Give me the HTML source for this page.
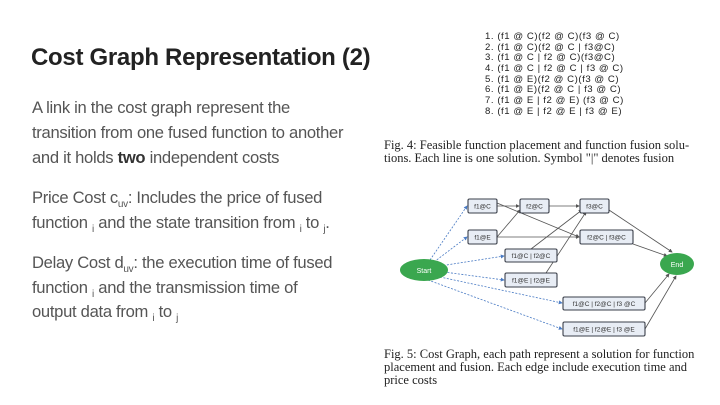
<!DOCTYPE html>
<html><head><meta charset="utf-8"><style>
body{margin:0;width:720px;height:405px;background:#fff;position:relative;overflow:hidden;font-family:"Liberation Sans",sans-serif;}
.t{position:absolute;left:32px;font-size:16.6px;color:#555;letter-spacing:-0.3px;white-space:nowrap;line-height:16px}
sub{font-size:10px;vertical-align:-4px;line-height:0}
.h{position:absolute;left:31px;top:44px;font-size:24px;font-weight:bold;color:#222;letter-spacing:-0.3px}
.l{position:absolute;left:485px;font-family:"Liberation Sans",sans-serif;font-size:9.6px;color:#222;white-space:nowrap;line-height:10px;letter-spacing:0.55px}
.c{position:absolute;font-family:"Liberation Serif",serif;font-size:12.5px;color:#222;white-space:nowrap;line-height:13px}
</style></head><body>
<div class="h">Cost Graph Representation (2)</div>
<div class="t" style="top:100px">A link in the cost graph represent the</div>
<div class="t" style="top:125px">transition from one fused function to another</div>
<div class="t" style="top:150px">and it holds <b style="color:#333">two</b> independent costs</div>
<div class="t" style="top:190px">Price Cost c<sub>uv</sub>: Includes the price of fused</div>
<div class="t" style="top:215px">function <sub>i</sub> and the state transition from <sub>i</sub> to <sub>j</sub>.</div>
<div class="t" style="top:255px">Delay Cost d<sub>uv</sub>: the execution time of fused</div>
<div class="t" style="top:280px">function <sub>i</sub> and the transmission time of</div>
<div class="t" style="top:304px">output data from <sub>i</sub> to <sub>j</sub></div>

<div class="l" style="top:32px">1. (f1 @ C)(f2 @ C)(f3 @ C)</div>
<div class="l" style="top:43px">2. (f1 @ C)(f2 @ C | f3@C)</div>
<div class="l" style="top:53px">3. (f1 @ C | f2 @ C)(f3@C)</div>
<div class="l" style="top:64px">4. (f1 @ C | f2 @ C | f3 @ C)</div>
<div class="l" style="top:75px">5. (f1 @ E)(f2 @ C)(f3 @ C)</div>
<div class="l" style="top:85px">6. (f1 @ E)(f2 @ C | f3 @ C)</div>
<div class="l" style="top:96px">7. (f1 @ E | f2 @ E) (f3 @ C)</div>
<div class="l" style="top:107px">8. (f1 @ E | f2 @ E | f3 @ E)</div>
<div class="c" style="left:384px;top:139px">Fig. 4: Feasible function placement and function fusion solu-</div>
<div class="c" style="left:384px;top:152px">tions. Each line is one solution. Symbol "|" denotes fusion</div>
<div class="c" style="left:384px;top:348px">Fig. 5: Cost Graph, each path represent a solution for function</div>
<div class="c" style="left:384px;top:361px">placement and fusion. Each edge include execution time and</div>
<div class="c" style="left:384px;top:374px">price costs</div>

<svg width="720" height="405" style="position:absolute;left:0;top:0" font-family="Liberation Sans,sans-serif">
<defs><marker id="a" markerWidth="5" markerHeight="5" refX="4" refY="2.5" orient="auto"><path d="M0,0L5,2.5L0,5z" fill="#555"/></marker>
<marker id="b" markerWidth="5" markerHeight="5" refX="4" refY="2.5" orient="auto"><path d="M0,0L5,2.5L0,5z" fill="#4a7bc4"/></marker></defs>
<g stroke="#4a7bc4" stroke-width="0.8" stroke-dasharray="2,1.5" fill="none" marker-end="url(#b)">
<line x1="430" y1="260" x2="467" y2="206"/>
<line x1="434" y1="262" x2="467" y2="237"/>
<line x1="440" y1="266" x2="504" y2="256"/>
<line x1="444" y1="272" x2="504" y2="280"/>
<line x1="440" y1="277" x2="562" y2="303"/>
<line x1="428" y1="280" x2="562" y2="329"/>
</g>
<g stroke="#555" stroke-width="0.8" fill="none" marker-end="url(#a)">
<line x1="497" y1="206" x2="519" y2="206"/>
<line x1="549" y1="206" x2="579" y2="206"/>
<line x1="497" y1="203" x2="579" y2="237"/>
<line x1="497" y1="237" x2="520" y2="210"/>
<line x1="497" y1="237" x2="579" y2="237"/>
<line x1="531" y1="249" x2="582" y2="210"/>
<line x1="546" y1="273" x2="586" y2="212"/>
<line x1="609" y1="210" x2="672" y2="252"/>
<line x1="633" y1="244" x2="667" y2="256"/>
<line x1="645" y1="303" x2="669" y2="274"/>
<line x1="645" y1="329" x2="676" y2="276"/>
</g>
<g fill="#e8edf5" stroke="#3a3f4a" stroke-width="1.1">
<rect x="468" y="199" width="29" height="14" rx="1.5"/>
<rect x="520" y="199" width="29" height="14" rx="1.5"/>
<rect x="580" y="199" width="29" height="14" rx="1.5"/>
<rect x="468" y="230" width="29" height="14" rx="1.5"/>
<rect x="580" y="230" width="53" height="14" rx="1.5"/>
<rect x="505" y="249" width="52" height="13" rx="1.5"/>
<rect x="505" y="273" width="52" height="14" rx="1.5"/>
<rect x="563" y="297" width="82" height="13" rx="1.5"/>
<rect x="563" y="322" width="82" height="14" rx="1.5"/>
</g>
<g font-size="6.5" fill="#333" text-anchor="middle">
<text x="482.5" y="208.5">f1@C</text><text x="534.5" y="208.5">f2@C</text><text x="594.5" y="208.5">f3@C</text>
<text x="482.5" y="239.5">f1@E</text><text x="606.5" y="239.5">f2@C | f3@C</text>
<text x="531" y="258">f1@C | f2@C</text><text x="531" y="282.5">f1@E | f2@E</text>
<text x="604" y="306">f1@C | f2@C | f3 @C</text><text x="604" y="331.5">f1@E | f2@E | f3 @E</text>
</g>
<ellipse cx="424" cy="270" rx="24" ry="11" fill="#3aa74f"/>
<ellipse cx="677" cy="264" rx="17" ry="11" fill="#3aa74f"/>
<text x="424" y="273" font-size="7" fill="#fff" text-anchor="middle">Start</text>
<text x="677" y="267" font-size="7" fill="#fff" text-anchor="middle">End</text>
</svg>
</body></html>
